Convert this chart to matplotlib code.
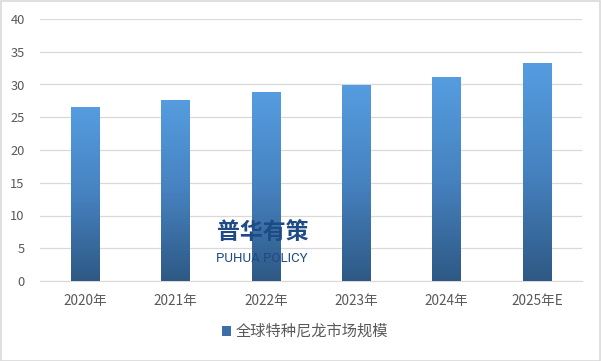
import matplotlib
matplotlib.use("Agg")
import matplotlib.pyplot as plt
import numpy as np
from matplotlib.colors import LinearSegmentedColormap
from matplotlib.patches import Rectangle

plt.rcParams['font.family'] = ['Noto Sans CJK SC', 'DejaVu Sans']

categories = ["2020年", "2021年", "2022年", "2023年", "2024年", "2025年E"]
values = [26.6, 27.7, 28.8, 30.0, 31.1, 33.3]
series_name = "全球特种尼龙市场规模"
yticks = [0, 5, 10, 15, 20, 25, 30, 35, 40]

W, H = 601, 361
fig = plt.figure(figsize=(W / 100, H / 100), dpi=100)
fig.patch.set_facecolor("white")
ax = fig.add_axes([40 / W, (H - 281) / H, (582 - 40) / W, (281 - 19) / H])

cmap = LinearSegmentedColormap.from_list("g", ["#2E5985", "#4682C0", "#559DE0"])
x = np.arange(len(categories))
bars = ax.bar(x, values, width=0.31, color="none", edgecolor="none", zorder=3)
grad = np.linspace(0, 1, 256).reshape(-1, 1)
for b in bars:
    x0, y0 = b.get_x(), b.get_y()
    w, h = b.get_width(), b.get_height()
    im = ax.imshow(grad, cmap=cmap, origin="lower", aspect="auto",
                   extent=[x0, x0 + w, y0, y0 + h], zorder=3)
    im.set_clip_path(b)

ax.set_xlim(-0.5, len(categories) - 0.5)
ax.set_ylim(0, 40)
ax.set_yticks(yticks)
ax.set_xticks(x)
ax.set_xticklabels(categories)
ax.grid(axis="y", color="#D9D9D9", linewidth=0.9, zorder=0)
ax.set_axisbelow(True)
for s in ["top", "right", "left"]:
    ax.spines[s].set_visible(False)
ax.spines["bottom"].set_color("#D9D9D9")
ax.tick_params(axis="both", length=0, colors="#595959")
ax.tick_params(axis="x", pad=9, labelsize=9.8)
ax.tick_params(axis="y", pad=11, labelsize=9.3)

# legend
handle = Rectangle((0, 0), 1, 1, facecolor="#3C6FA6", edgecolor="none")
fig.legend([handle], [series_name], loc="center", bbox_to_anchor=(305 / W, 1 - 332 / H),
           frameon=False, fontsize=11, handlelength=0.55, handleheight=0.55,
           handletextpad=0.3, labelcolor="#595959")

# watermark
fig.text(263 / W, 1 - 232 / H, "普华有策", fontsize=16.5, fontweight="bold",
         color="#1E4A86", ha="center", va="center", zorder=10)
fig.text(262 / W, 1 - 258 / H, "PUHUA POLICY", fontsize=9.5,
         color="#1E4A86", ha="center", va="center", zorder=10,
         family=["Roboto", "DejaVu Sans"])

# figure border
fig.add_artist(Rectangle((0.5 / W, 0.5 / H), 1 - 1.5 / W, 1 - 1.5 / H,
                         transform=fig.transFigure, fill=False,
                         edgecolor="#D9D9D9", linewidth=1.2))

fig.savefig("out.png", dpi=100)
